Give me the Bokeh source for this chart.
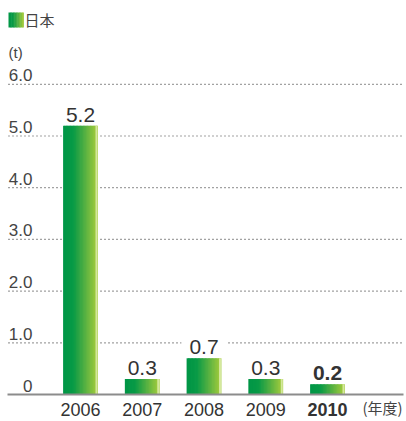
from bokeh.plotting import figure
from bokeh.models import Label, Range1d
from bokeh.embed import file_html
from bokeh.resources import INLINE

# ---- data ----
years = ["2006", "2007", "2008", "2009", "2010"]
amounts = [5.2, 0.3, 0.7, 0.3, 0.2]
value_labels = ["5.2", "0.3", "0.7", "0.3", "0.2"]
bold_index = 4
y_ticks = [0, 1, 2, 3, 4, 5, 6]
y_tick_labels = ["0", "1.0", "2.0", "3.0", "4.0", "5.0", "6.0"]
series_name = "日本"
unit_label = "(t)"
x_unit_label = "(年度)"

# ---- layout constants (pixels of the picture) ----
W, H = 406, 421
Y0_PX = 394.0   # px of value 0
Y_UNIT = 51.7   # px per 1.0
X0_PX = 80.0    # px of first category
X_UNIT = 61.75  # px per category
TXT = 6.0       # label baseline correction


def dx(px):
    return (px - X0_PX) / X_UNIT


def dy(py):
    return (Y0_PX - py) / Y_UNIT


def lerp_color(t):
    stops = [(0.0, (0, 150, 70)), (0.3, (8, 154, 70)), (0.62, (80, 175, 66)), (1.0, (166, 204, 60))]
    for (t0, c0), (t1, c1) in zip(stops[:-1], stops[1:]):
        if t <= t1:
            f = (t - t0) / (t1 - t0)
            c = [round(a + (b - a) * f) for a, b in zip(c0, c1)]
            return "#%02x%02x%02x" % tuple(c)
    return "#%02x%02x%02x" % stops[-1][1]


p = figure(width=W, height=H, output_backend="svg", toolbar_location=None,
           x_range=Range1d(dx(0), dx(W)), y_range=Range1d(dy(H), dy(0)),
           x_axis_location=None, y_axis_location=None,
           min_border=0, outline_line_color=None)
p.grid.visible = False

# dotted grid lines
grid_vals = y_ticks[1:]
p.segment(x0=[dx(8)] * len(grid_vals), x1=[dx(401)] * len(grid_vals),
          y0=grid_vals, y1=grid_vals, line_color="#444444", line_dash="1 3", line_width=1.2)

xs = list(range(len(years)))
bw = 34.0 / X_UNIT
n = 24
for k in range(n):
    t = (k + 0.5) / n
    sx = [i - bw / 2 + (k + 0.5) * bw / n for i in xs]
    p.vbar(x=sx, top=amounts, bottom=0, width=bw / n + 0.8 / X_UNIT,
           fill_color=lerp_color(t), line_color=None)
# light right edge
p.vbar(x=[i + bw / 2 - 1.0 / X_UNIT for i in xs], top=amounts, bottom=0,
       width=2.0 / X_UNIT, fill_color="#d4e89c", line_color=None)

# baseline
p.segment(x0=[dx(7)], x1=[dx(403)], y0=[y_ticks[0]], y1=[y_ticks[0]],
          line_color="#8c8c8c", line_width=2)

num_font = "Liberation Sans"
# value labels
for i in xs:
    p.add_layout(Label(x=i, y=amounts[i] + (5.0 + TXT) / Y_UNIT, text=value_labels[i],
                       text_align="center", text_baseline="alphabetic",
                       text_font=num_font, text_font_size="21px",
                       text_font_style="bold" if i == bold_index else "normal",
                       text_color="#333333",
                       background_fill_color="white",
                       padding=dict(left=8, right=8, top=0, bottom=0)))
# x labels
for i in xs:
    p.add_layout(Label(x=i, y=dy(409), text=years[i],
                       text_align="center", text_baseline="alphabetic",
                       text_font=num_font, text_font_size="18px",
                       text_font_style="bold" if i == bold_index else "normal",
                       text_color="#333333"))
p.add_layout(Label(x=dx(362), y=dy(407), text=x_unit_label,
                   text_align="left", text_baseline="alphabetic",
                   text_font="Noto Sans CJK JP", text_font_size="15px",
                   text_color="#444444"))
# y tick labels
for v, s in zip(y_ticks, y_tick_labels):
    p.add_layout(Label(x=dx(32), y=v + (3.0 + TXT) / Y_UNIT, text=s,
                       text_align="right", text_baseline="alphabetic",
                       text_font=num_font, text_font_size="17px",
                       text_color="#444444"))
p.add_layout(Label(x=dx(8), y=dy(52), text=unit_label,
                   text_align="left", text_baseline="alphabetic",
                   text_font=num_font, text_font_size="15px",
                   text_color="#444444"))
# legend
ln = 10
lw = 15.0
for k in range(ln):
    t = (k + 0.5) / ln
    left = dx(8 + k * lw / ln)
    right = dx(8 + (k + 1) * lw / ln + 0.4)
    p.quad(left=[left], right=[right], top=[dy(12)], bottom=[dy(27)],
           fill_color=lerp_color(t), line_color=None)
p.add_layout(Label(x=dx(24), y=dy(19), text=series_name,
                   text_align="left", text_baseline="alphabetic",
                   text_font="Noto Sans CJK JP", text_font_size="15px",
                   text_color="#444444"))

open("out.html", "w").write(file_html(p, INLINE))
